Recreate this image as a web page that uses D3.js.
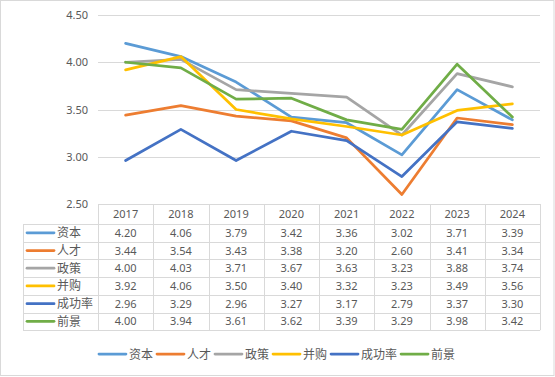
<!DOCTYPE html>
<html>
<head>
<meta charset="utf-8">
<script src="https://cdn.jsdelivr.net/npm/d3@7"></script>
<style>
  body { margin: 0; background: #fff; }
  text { font-family: "Noto Sans", "Noto Sans CJK SC", sans-serif; fill: #595959; }
</style>
</head>
<body>
<svg id="chart" width="555" height="377"></svg>
<script>
var years = ['2017', '2018', '2019', '2020', '2021', '2022', '2023', '2024'];
var names = ['资本', '人才', '政策', '并购', '成功率', '前景'];
var colors = ['#5B9BD5', '#ED7D31', '#A5A5A5', '#FFC000', '#4472C4', '#70AD47'];
var yTicks = [2.5, 3.0, 3.5, 4.0, 4.5];

var ziben = [4.20, 4.06, 3.79, 3.42, 3.36, 3.02, 3.71, 3.39];
var rencai = [3.44, 3.54, 3.43, 3.38, 3.20, 2.60, 3.41, 3.34];
var zhengce = [4.00, 4.03, 3.71, 3.67, 3.63, 3.23, 3.88, 3.74];
var binggou = [3.92, 4.06, 3.50, 3.40, 3.32, 3.23, 3.49, 3.56];
var chenggong = [2.96, 3.29, 2.96, 3.27, 3.17, 2.79, 3.37, 3.30];
var qianjing = [4.00, 3.94, 3.61, 3.62, 3.39, 3.29, 3.98, 3.42];

var seriesValues = [ziben, rencai, zhengce, binggou, chenggong, qianjing];
var series = names.map(function(n, i) {
    return { name: n, color: colors[i], values: seriesValues[i] };
});

var plotLeft = 98, plotRight = 540, plotTop = 15, plotBottom = 204;
var tableLeft = 23, headerH = 20, rowH = 17.7;

var svg = d3.select('#chart');

// chart frame
svg.append('rect')
    .attr('x', 0.5).attr('y', 0.5).attr('width', 553.5).attr('height', 375)
    .attr('fill', '#fff').attr('stroke', '#d9d9d9');

var xScale = d3.scaleBand().domain(years).range([plotLeft, plotRight]);
var yScale = d3.scaleLinear().domain([2.5, 4.5]).range([plotBottom, plotTop]);

// gridlines
svg.append('g')
    .selectAll('line')
    .data(yTicks.slice(1))
    .join('line')
    .attr('x1', plotLeft).attr('x2', plotRight)
    .attr('y1', function(d) { return Math.round(yScale(d)) + 0.5; })
    .attr('y2', function(d) { return Math.round(yScale(d)) + 0.5; })
    .style('stroke', '#d9d9d9');

// y axis labels
var yAxis = d3.axisLeft(yScale).tickValues(yTicks).tickFormat(d3.format('.2f')).tickSize(0).tickPadding(10);
var yg = svg.append('g').attr('transform', 'translate(' + plotLeft + ',0)').call(yAxis);
yg.select('.domain').remove();
yg.selectAll('text').style('font-size', '11px').style('fill', '#595959').style('font-family', '"Noto Sans", sans-serif');

// lines
var lineGen = d3.line()
    .x(function(d, i) { return xScale(years[i]) + xScale.bandwidth() / 2; })
    .y(function(d) { return yScale(d); });

svg.append('g')
    .selectAll('path')
    .data(series)
    .join('path')
    .attr('d', function(d) { return lineGen(d.values); })
    .style('fill', 'none')
    .style('stroke', function(d) { return d.color; })
    .style('stroke-width', 2.75)
    .style('stroke-linejoin', 'round')
    .style('stroke-linecap', 'round');

// data table
var table = svg.append('g');
var tableBottom = plotBottom + headerH + rowH * series.length;

// horizontal lines
var hLines = [plotBottom].concat(series.map(function(d, i) { return plotBottom + headerH + rowH * i; }), [tableBottom]);
table.selectAll('line.h')
    .data(hLines)
    .join('line')
    .attr('class', 'h')
    .attr('x1', function(d, i) { return i === 0 ? plotLeft : tableLeft; })
    .attr('x2', plotRight)
    .attr('y1', function(d) { return Math.round(d) + 0.5; })
    .attr('y2', function(d) { return Math.round(d) + 0.5; })
    .style('stroke', '#d9d9d9');

// vertical lines
var vLines = years.map(function(y) { return xScale(y); }).concat([plotRight]);
table.selectAll('line.v')
    .data(vLines)
    .join('line')
    .attr('class', 'v')
    .attr('x1', function(d) { return Math.round(d) + 0.5; })
    .attr('x2', function(d) { return Math.round(d) + 0.5; })
    .attr('y1', plotBottom).attr('y2', tableBottom)
    .style('stroke', '#d9d9d9');
table.append('line')
    .attr('x1', tableLeft + 0.5).attr('x2', tableLeft + 0.5)
    .attr('y1', plotBottom + headerH).attr('y2', tableBottom)
    .style('stroke', '#d9d9d9');

// header
table.selectAll('text.year')
    .data(years)
    .join('text')
    .attr('class', 'year')
    .attr('x', function(d) { return xScale(d) + xScale.bandwidth() / 2; })
    .attr('y', plotBottom + headerH / 2 + 4)
    .attr('text-anchor', 'middle')
    .style('font-size', '11px')
    .text(function(d) { return d; });

// rows
var rows = table.selectAll('g.row')
    .data(series)
    .join('g')
    .attr('class', 'row')
    .attr('transform', function(d, i) {
        return 'translate(0,' + (plotBottom + headerH + rowH * i) + ')';
    });

rows.append('line')
    .attr('x1', tableLeft + 4).attr('x2', tableLeft + 31)
    .attr('y1', rowH / 2).attr('y2', rowH / 2)
    .style('stroke', function(d) { return d.color; })
    .style('stroke-width', 2.75)
    .style('stroke-linecap', 'round');

rows.append('text')
    .attr('x', tableLeft + 34)
    .attr('y', rowH / 2 + 4.5)
    .style('font-size', '12px')
    .style('font-family', '"Noto Sans CJK SC", sans-serif')
    .text(function(d) { return d.name; });

rows.selectAll('text.val')
    .data(function(d) { return d.values; })
    .join('text')
    .attr('class', 'val')
    .attr('x', function(d, i) { return xScale(years[i]) + xScale.bandwidth() / 2; })
    .attr('y', rowH / 2 + 4)
    .attr('text-anchor', 'middle')
    .style('font-size', '11px')
    .text(function(d) { return d.toFixed(2); });

// legend
var legend = svg.append('g');
var items = legend.selectAll('g')
    .data(series)
    .join('g');

items.append('line')
    .attr('x1', 0).attr('x2', 27)
    .attr('y1', 0).attr('y2', 0)
    .style('stroke', function(d) { return d.color; })
    .style('stroke-width', 2.75)
    .style('stroke-linecap', 'round');

items.append('text')
    .attr('x', 30)
    .attr('y', 4.5)
    .style('font-size', '12px')
    .style('font-family', '"Noto Sans CJK SC", sans-serif')
    .text(function(d) { return d.name; });

var offset = 0;
var offsets = [];
items.each(function() {
    offsets.push(offset);
    offset += this.getBBox().width + 4;
});
var totalW = offset - 4;
var startX = 277 - totalW / 2;
items.attr('transform', function(d, i) {
    return 'translate(' + (startX + offsets[i]) + ',354)';
});
</script>
</body>
</html>
